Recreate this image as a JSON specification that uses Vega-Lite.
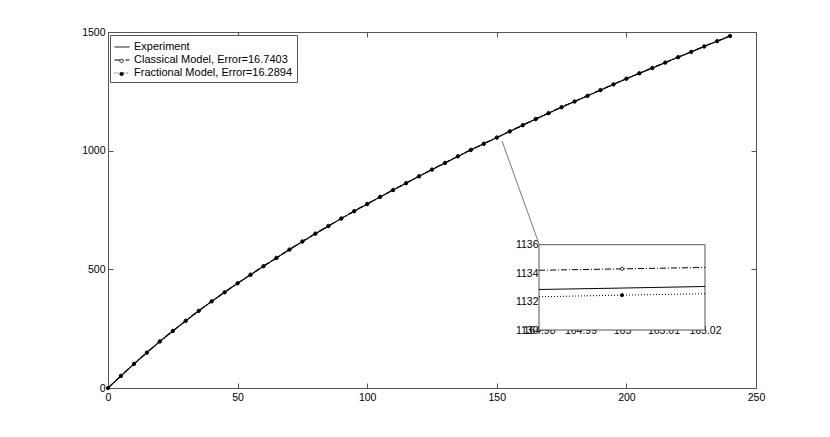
{
  "$schema": "https://vega.github.io/schema/vega-lite/v6.json",
  "autosize": {"type": "none"},
  "padding": {"left": 108, "top": 32, "right": 74, "bottom": 49},
  "width": 648,
  "height": 356,
  "background": "white",
  "config": {
    "view": {"stroke": "#555", "strokeWidth": 1},
    "axis": {"labelFont": "Liberation Sans", "labelFontSize": 10.5, "labelColor": "#000", "tickColor": "#555", "domainColor": "#555", "grid": false, "title": null, "labelFlush": false, "labelOverlap": false},
    "legend": {"labelFont": "Liberation Sans", "labelFontSize": 11, "labelColor": "#000"}
  },
  "datasets": {
    "main": [
      {"x": 0, "Experiment": 0, "Classical": 0, "Fractional": 0},
      {"x": 5, "Experiment": 51, "Classical": 52, "Fractional": 50.5},
      {"x": 10, "Experiment": 101, "Classical": 102, "Fractional": 100.5},
      {"x": 15, "Experiment": 149, "Classical": 150, "Fractional": 148.5},
      {"x": 20, "Experiment": 196, "Classical": 197, "Fractional": 195.5},
      {"x": 25, "Experiment": 240, "Classical": 241, "Fractional": 239.5},
      {"x": 30, "Experiment": 283, "Classical": 284, "Fractional": 282.5},
      {"x": 35, "Experiment": 325, "Classical": 326, "Fractional": 324.5},
      {"x": 40, "Experiment": 365, "Classical": 366, "Fractional": 364.5},
      {"x": 45, "Experiment": 403, "Classical": 404, "Fractional": 402.5},
      {"x": 50, "Experiment": 441, "Classical": 442, "Fractional": 440.5},
      {"x": 55, "Experiment": 477, "Classical": 478, "Fractional": 476.5},
      {"x": 60, "Experiment": 513, "Classical": 514, "Fractional": 512.5},
      {"x": 65, "Experiment": 548, "Classical": 549, "Fractional": 547.5},
      {"x": 70, "Experiment": 583, "Classical": 584, "Fractional": 582.5},
      {"x": 75, "Experiment": 617, "Classical": 618, "Fractional": 616.5},
      {"x": 80, "Experiment": 650, "Classical": 651, "Fractional": 649.5},
      {"x": 85, "Experiment": 682, "Classical": 683, "Fractional": 681.5},
      {"x": 90, "Experiment": 714, "Classical": 715, "Fractional": 713.5},
      {"x": 95, "Experiment": 745, "Classical": 746, "Fractional": 744.5},
      {"x": 100, "Experiment": 775, "Classical": 776, "Fractional": 774.5},
      {"x": 105, "Experiment": 805, "Classical": 806, "Fractional": 804.5},
      {"x": 110, "Experiment": 834, "Classical": 835, "Fractional": 833.5},
      {"x": 115, "Experiment": 863, "Classical": 864, "Fractional": 862.5},
      {"x": 120, "Experiment": 892, "Classical": 893, "Fractional": 891.5},
      {"x": 125, "Experiment": 920, "Classical": 921, "Fractional": 919.5},
      {"x": 130, "Experiment": 948, "Classical": 949, "Fractional": 947.5},
      {"x": 135, "Experiment": 976, "Classical": 977, "Fractional": 975.5},
      {"x": 140, "Experiment": 1003, "Classical": 1004, "Fractional": 1002.5},
      {"x": 145, "Experiment": 1029, "Classical": 1030, "Fractional": 1028.5},
      {"x": 150, "Experiment": 1055, "Classical": 1056, "Fractional": 1054.5},
      {"x": 155, "Experiment": 1081, "Classical": 1082, "Fractional": 1080.5},
      {"x": 160, "Experiment": 1107, "Classical": 1108.3, "Fractional": 1106.5},
      {"x": 165, "Experiment": 1132.95, "Classical": 1134.3, "Fractional": 1132.45},
      {"x": 170, "Experiment": 1158, "Classical": 1159.3, "Fractional": 1157.5},
      {"x": 175, "Experiment": 1183, "Classical": 1184, "Fractional": 1182.5},
      {"x": 180, "Experiment": 1207, "Classical": 1208, "Fractional": 1206.5},
      {"x": 185, "Experiment": 1231, "Classical": 1232, "Fractional": 1230.5},
      {"x": 190, "Experiment": 1255, "Classical": 1256, "Fractional": 1254.5},
      {"x": 195, "Experiment": 1279, "Classical": 1280, "Fractional": 1278.5},
      {"x": 200, "Experiment": 1303, "Classical": 1304, "Fractional": 1302.5},
      {"x": 205, "Experiment": 1326, "Classical": 1327, "Fractional": 1325.5},
      {"x": 210, "Experiment": 1348, "Classical": 1349, "Fractional": 1347.5},
      {"x": 215, "Experiment": 1371, "Classical": 1372, "Fractional": 1370.5},
      {"x": 220, "Experiment": 1394, "Classical": 1395, "Fractional": 1393.5},
      {"x": 225, "Experiment": 1416, "Classical": 1417, "Fractional": 1415.5},
      {"x": 230, "Experiment": 1439, "Classical": 1440, "Fractional": 1438.5},
      {"x": 235, "Experiment": 1461, "Classical": 1462, "Fractional": 1460.5},
      {"x": 240, "Experiment": 1483, "Classical": 1484, "Fractional": 1482.5}
    ],
    "zoom": [
      {"x": 164.98, "Experiment": 1132.85, "Classical": 1134.2, "Fractional": 1132.34},
      {"x": 165, "Experiment": 1132.95, "Classical": 1134.3, "Fractional": 1132.45},
      {"x": 165.02, "Experiment": 1133.06, "Classical": 1134.4, "Fractional": 1132.55}
    ],
    "frame": [
      {"x1": 164.98, "x2": 165.02, "y1": 1130, "y2": 1136}
    ],
    "connector": [
      {"x1": 152.0, "y1": 1041, "x2": 166.4, "y2": 604}
    ]
  },
  "layer": [
    {
      "layer": [
        {
          "data": {"name": "main"},
          "transform": [{"fold": ["Experiment", "Classical", "Fractional"], "as": ["series", "value"]}],
          "mark": {"type": "line", "color": "#000", "strokeWidth": 1.1},
          "encoding": {
            "x": {"field": "x", "type": "quantitative", "scale": {"domain": [0, 250], "nice": false},
                  "axis": {"orient": "bottom", "values": [0, 50, 100, 150, 200, 250], "tickSize": -5, "labelPadding": 9, "domain": false}},
            "y": {"field": "value", "type": "quantitative", "scale": {"domain": [0, 1500], "nice": false},
                  "axis": {"orient": "left", "values": [0, 500, 1000, 1500], "format": "d", "tickSize": -5, "labelPadding": 8, "domain": false}},
            "strokeDash": {"field": "series", "type": "nominal",
              "scale": {"domain": ["Experiment", "Classical", "Fractional"], "range": [[1, 0], [6, 2, 1, 2], [1, 2]]},
              "legend": {"orient": "none", "legendX": 2, "legendY": 3, "title": null, "strokeColor": "#555", "fillColor": "white",
                         "padding": 4, "symbolSize": 225, "symbolStrokeColor": "#000", "symbolStrokeWidth": 1, "rowPadding": 0, "zindex": 1,
                         "labelExpr": "datum.value === 'Experiment' ? 'Experiment' : datum.value === 'Classical' ? 'Classical Model, Error=16.7403' : 'Fractional Model, Error=16.2894'"}}
          }
        },
        {
          "data": {"name": "main"},
          "transform": [{"fold": ["Classical", "Fractional"], "as": ["model", "value"]}],
          "mark": {"type": "point", "shape": "circle", "size": 10, "strokeWidth": 0.8, "opacity": 1, "filled": false},
          "encoding": {
            "x": {"field": "x", "type": "quantitative"},
            "y": {"field": "value", "type": "quantitative"},
            "fill": {"field": "model", "type": "nominal", "scale": {"domain": ["Classical", "Fractional"], "range": ["white", "black"]},
              "legend": {"orient": "none", "legendX": 1.6, "legendY": 17, "title": null, "padding": 4, "symbolSize": 225, "rowPadding": 0, "zindex": 2,
                         "symbolType": "M-0.23,0a0.23,0.23 0 1,0 0.46,0a0.23,0.23 0 1,0 -0.46,0", "symbolStrokeWidth": 0.8, "labelColor": "transparent"}},
            "stroke": {"field": "model", "type": "nominal", "scale": {"domain": ["Classical", "Fractional"], "range": ["black", "black"]}}
          }
        }
      ]
    },
    {
      "data": {"name": "connector"},
      "mark": {"type": "rule", "color": "#777", "strokeWidth": 1},
      "encoding": {
        "x": {"field": "x1", "type": "quantitative", "scale": {"domain": [0, 250], "nice": false},
              "axis": {"orient": "top", "values": [0, 50, 100, 150, 200, 250], "tickSize": -5, "labels": false, "domain": false}},
        "y": {"field": "y1", "type": "quantitative", "scale": {"domain": [0, 1500], "nice": false},
              "axis": {"orient": "right", "values": [0, 500, 1000, 1500], "tickSize": -5, "labels": false, "domain": false}},
        "x2": {"field": "x2"},
        "y2": {"field": "y2"}
      }
    },
    {
      "layer": [
        {
          "data": {"name": "frame"},
          "mark": {"type": "rect", "fill": "white", "stroke": "#555", "strokeWidth": 1},
          "encoding": {
            "x": {"field": "x1", "type": "quantitative", "scale": {"domain": [164.98, 165.02], "nice": false, "zero": false, "range": [431, 597]},
                  "axis": {"orient": "bottom", "offset": -58, "values": [164.98, 164.99, 165, 165.01, 165.02], "format": ".5~g", "tickSize": -4, "labelPadding": -1, "domain": false}},
            "x2": {"field": "x2"},
            "y": {"field": "y1", "type": "quantitative", "scale": {"domain": [1130, 1136], "nice": false, "zero": false, "range": [298, 212.7]},
                  "axis": {"orient": "left", "offset": -431, "values": [1130, 1132, 1134, 1136], "format": "d", "tickSize": -4, "labelPadding": 5, "domain": false}},
            "y2": {"field": "y2"}
          }
        },
        {
          "data": {"name": "zoom"},
          "transform": [{"fold": ["Experiment", "Classical", "Fractional"], "as": ["series", "value"]}],
          "mark": {"type": "line", "color": "#000", "strokeWidth": 1},
          "encoding": {
            "x": {"field": "x", "type": "quantitative"},
            "y": {"field": "value", "type": "quantitative"},
            "strokeDash": {"field": "series", "type": "nominal"}
          }
        },
        {
          "data": {"name": "zoom"},
          "transform": [{"filter": "datum.x === 165"}, {"fold": ["Classical", "Fractional"], "as": ["model", "value"]}],
          "mark": {"type": "point", "shape": "circle", "size": 10, "strokeWidth": 0.8, "opacity": 1, "filled": false},
          "encoding": {
            "x": {"field": "x", "type": "quantitative"},
            "y": {"field": "value", "type": "quantitative"},
            "fill": {"field": "model", "type": "nominal"},
            "stroke": {"field": "model", "type": "nominal"}
          }
        }
      ]
    }
  ],
  "resolve": {"scale": {"x": "independent", "y": "independent"}, "axis": {"x": "independent", "y": "independent"}}
}
